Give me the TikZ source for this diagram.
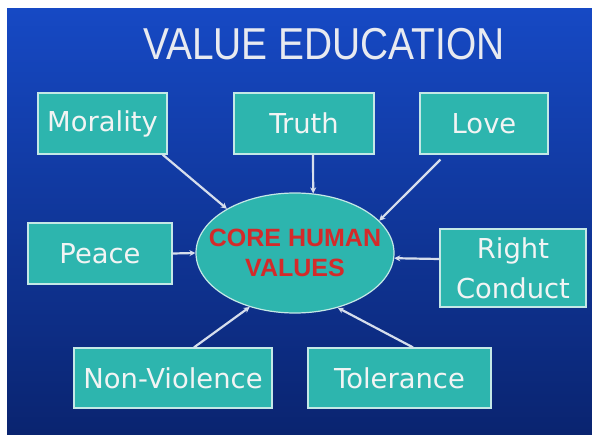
\documentclass[tikz,border=0pt]{standalone}
\usepackage{fontspec}
\setmainfont{DejaVu Sans}
\newfontfamily\titlefont[FakeStretch=0.87]{Liberation Sans}
\newfontfamily\corefont{Liberation Sans}
\usepackage{tikz}
\usetikzlibrary{arrows.meta,positioning,shapes.geometric}
\definecolor{cBgTop}{HTML}{1649C4}
\definecolor{cBgMid}{HTML}{1240A8}
\definecolor{cBgBot}{HTML}{0A2470}
\definecolor{cTeal}{HTML}{2DB5AE}
\definecolor{cEdge}{HTML}{C4E8E6}
\definecolor{cText}{HTML}{F2F4F4}
\definecolor{cTitle}{HTML}{E8EAF0}
\definecolor{cRed}{HTML}{D42A2A}
\definecolor{cArrow}{HTML}{D6DEEC}
\tikzset{
  vbox/.style={draw=cEdge,fill=cTeal,line width=1.2pt,align=center,text=cText,
    font=\fontsize{27.4}{40}\selectfont,inner sep=2pt},
  % negative xsep keeps the ellipse at its set size round the wide label
  hub/.style={ellipse,draw=cEdge,fill=cTeal,line width=1.2pt,minimum width=198pt,minimum height=120pt,
    align=center,text=cRed,font=\corefont\bfseries\fontsize{25}{30}\selectfont,inner xsep=-18pt,inner ysep=0pt},
  arr/.style={-{Stealth[length=6pt,width=6pt]},line width=2.2pt,color=cArrow},
}
\begin{document}
\begin{tikzpicture}[x=1pt,y=-1pt]
  \fill[white] (0,0) rectangle (592,434);
  \shade[top color=cBgTop,middle color=cBgMid,bottom color=cBgBot] (7,8) rectangle (592,434);
  \useasboundingbox (0,0) rectangle (592,434);
  \node[font=\titlefont\fontsize{44.7}{50}\selectfont,text=cTitle,inner sep=0pt] (title) at (324,44) {VALUE EDUCATION};
  % outer values, pixel positions of the slide
  \node[vbox,minimum width=129pt,minimum height=61pt] (morality) at (102.5,123.5) {Morality};
  \node[vbox,minimum width=140pt,minimum height=61pt] (truth) at (304,123.5) {Truth};
  \node[vbox,minimum width=128pt,minimum height=61pt] (love) at (484,123.5) {Love};
  \node[vbox,minimum width=144pt,minimum height=61pt] (peace) at (100,253.5) {Peace};
  \node[vbox,minimum width=146pt,minimum height=78pt] (right) at (513,268) {Right\\Conduct};
  \node[vbox,minimum width=198pt,minimum height=60pt] (nonv) at (173,378) {Non-Violence};
  \node[vbox,minimum width=183pt,minimum height=60pt] (tol) at (399.5,378) {Tolerance};
  \node[hub] (core) at (295,253) {CORE HUMAN\\VALUES};
  \draw[arr] ([xshift=-5pt]morality.south east) -- (core.147);
  \draw[arr] ([xshift=9pt]truth.south) -- (core.73);
  \draw[arr] ([xshift=21pt,yshift=-5pt]love.south west) -- (core.21);
  \draw[arr] (peace.east) -- (core.west);
  \draw[arr] ([yshift=9pt]right.west) -- (core.-3.5);
  \draw[arr] ([xshift=21pt]nonv.north) -- (core.230);
  \draw[arr] ([xshift=13.5pt]tol.north) -- (core.-52);
\end{tikzpicture}
\end{document}
